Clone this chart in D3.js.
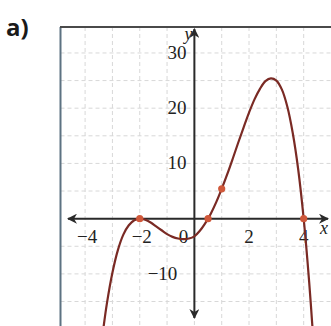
<!DOCTYPE html>
<html>
<head>
<meta charset="utf-8">
<script src="https://cdn.jsdelivr.net/npm/d3@7"></script>
<style>
  html, body { margin: 0; padding: 0; background: #fff; }
  svg { display: block; }
</style>
</head>
<body>
<svg id="chart" width="331" height="326"></svg>
<script>
// Points along the graph of f (x, y)
const curveX = [-3.35, -3.2, -3.0, -2.8, -2.6, -2.4, -2.2, -2.0, -1.8, -1.6, -1.4, -1.2, -1.0, -0.8, -0.6, -0.4, -0.2, 0.0, 0.2, 0.4, 0.5, 0.6, 0.8, 1.0, 1.2, 1.4, 1.6, 1.8, 2.0, 2.2, 2.4, 2.6, 2.8, 3.0, 3.2, 3.4, 3.6, 3.8, 4.0, 4.2, 4.35];
const curveY = [-20.6, -15.3, -9.8, -5.7, -2.9, -1.2, -0.3, 0, -0.2, -0.7, -1.4, -2.1, -2.8, -3.3, -3.6, -3.7, -3.6, -3.2, -2.2, -0.8, 0, 0.9, 3.0, 5.4, 8.0, 10.8, 13.7, 16.5, 19.2, 21.6, 23.5, 24.9, 25.4, 25.0, 23.4, 20.3, 15.5, 8.9, 0, -11.4, -21.7];

// Highlighted points on the graph
const markX = [-2, 0.5, 1, 4];
const markY = [0, 0, 5.4, 0];

// Axis tick labels
const xTicks = [-4, -2, 0, 2, 4];
const yTicks = [30, 20, 10, -10];

// Grid spacing values
const xGrid = [-4, -3, -2, -1, 0, 1, 2, 3, 4];
const yGrid = [-15, -10, -5, 5, 10, 15, 20, 25, 30];

const svg = d3.select("#chart");

const x = d3.scaleLinear().domain([-4.9, 5.0]).range([60.5, 331]);
const y = d3.scaleLinear().domain([-19.8, 34.7]).range([328, 27]);

const x0 = x(0), y0 = y(0);

// Grid
const grid = svg.append("g").attr("stroke", "#d8d8d8").attr("stroke-width", 1)
  .attr("stroke-dasharray", "4,3");
grid.selectAll("line.v").data(xGrid).join("line")
  .attr("class", "v")
  .attr("x1", d => x(d)).attr("x2", d => x(d))
  .attr("y1", 27).attr("y2", 326);
grid.selectAll("line.h").data(yGrid).join("line")
  .attr("class", "h")
  .attr("x1", 60.5).attr("x2", 331)
  .attr("y1", d => y(d)).attr("y2", d => y(d));

// Frame
svg.append("line").attr("x1", 60.5).attr("x2", 60.5).attr("y1", 27).attr("y2", 326)
  .attr("stroke", "#5d7282").attr("stroke-width", 2);
svg.append("line").attr("x1", 60).attr("x2", 331).attr("y1", 27).attr("y2", 27)
  .attr("stroke", "#4a4a4a").attr("stroke-width", 2);

// Arrowheads
const defs = svg.append("defs");
defs.append("marker").attr("id", "arr").attr("viewBox", "0 0 10 10")
  .attr("refX", 9).attr("refY", 5).attr("markerWidth", 5).attr("markerHeight", 5)
  .attr("orient", "auto-start-reverse").attr("markerUnits", "strokeWidth")
  .append("path").attr("d", "M0,0 L10,5 L0,10 L3,5 Z").attr("fill", "#2a2a2a");

// Axes
svg.append("line").attr("x1", 68).attr("x2", 328).attr("y1", y0).attr("y2", y0)
  .attr("stroke", "#2a2a2a").attr("stroke-width", 2)
  .attr("marker-start", "url(#arr)").attr("marker-end", "url(#arr)");
svg.append("line").attr("x1", x0).attr("x2", x0).attr("y1", 318).attr("y2", 29)
  .attr("stroke", "#2a2a2a").attr("stroke-width", 2)
  .attr("marker-start", "url(#arr)").attr("marker-end", "url(#arr)");

// Tick labels
const font = "'Liberation Serif', 'Times New Roman', serif";
svg.append("g").selectAll("text").data(xTicks).join("text")
  .attr("x", d => d === 0 ? x0 - 11 : x(d) + (d < 0 ? 2 : 0))
  .attr("y", y0 + 24)
  .attr("text-anchor", "middle")
  .attr("font-family", font).attr("font-size", 19).attr("fill", "#222")
  .text(d => d < 0 ? "\u2212" + Math.abs(d) : d);

svg.append("g").selectAll("text").data(yTicks).join("text")
  .attr("x", d => d < 0 ? x0 - 17 : x0 - 8)
  .attr("y", d => y(d) + 6)
  .attr("text-anchor", "end")
  .attr("font-family", font).attr("font-size", 19).attr("fill", "#222")
  .text(d => d < 0 ? "\u2212" + Math.abs(d) : d);

// Axis names
svg.append("text").attr("x", x0 - 10).attr("y", 40)
  .attr("font-family", font).attr("font-style", "italic").attr("font-size", 18)
  .attr("fill", "#222").text("y");
svg.append("text").attr("x", 320).attr("y", y0 + 15)
  .attr("font-family", font).attr("font-style", "italic").attr("font-size", 18)
  .attr("fill", "#222").text("x");

// Graph of f
const pts = curveX.map((d, i) => [d, curveY[i]]);
const line = d3.line().x(d => x(d[0])).y(d => y(d[1])).curve(d3.curveCatmullRom.alpha(0.5));
svg.append("path").datum(pts).attr("d", line)
  .attr("fill", "none").attr("stroke", "#7a2a24").attr("stroke-width", 2.2);

// Highlighted points
svg.append("g").selectAll("circle").data(markX).join("circle")
  .attr("cx", d => x(d)).attr("cy", (d, i) => y(markY[i])).attr("r", 3.6)
  .attr("fill", "#d0583a");

// Panel label
svg.append("text").attr("x", 6).attr("y", 36)
  .attr("font-family", "'Open Sans', sans-serif").attr("font-weight", "bold")
  .attr("font-size", 24).attr("fill", "#1a1a1a").text("a)");
</script>
</body>
</html>
